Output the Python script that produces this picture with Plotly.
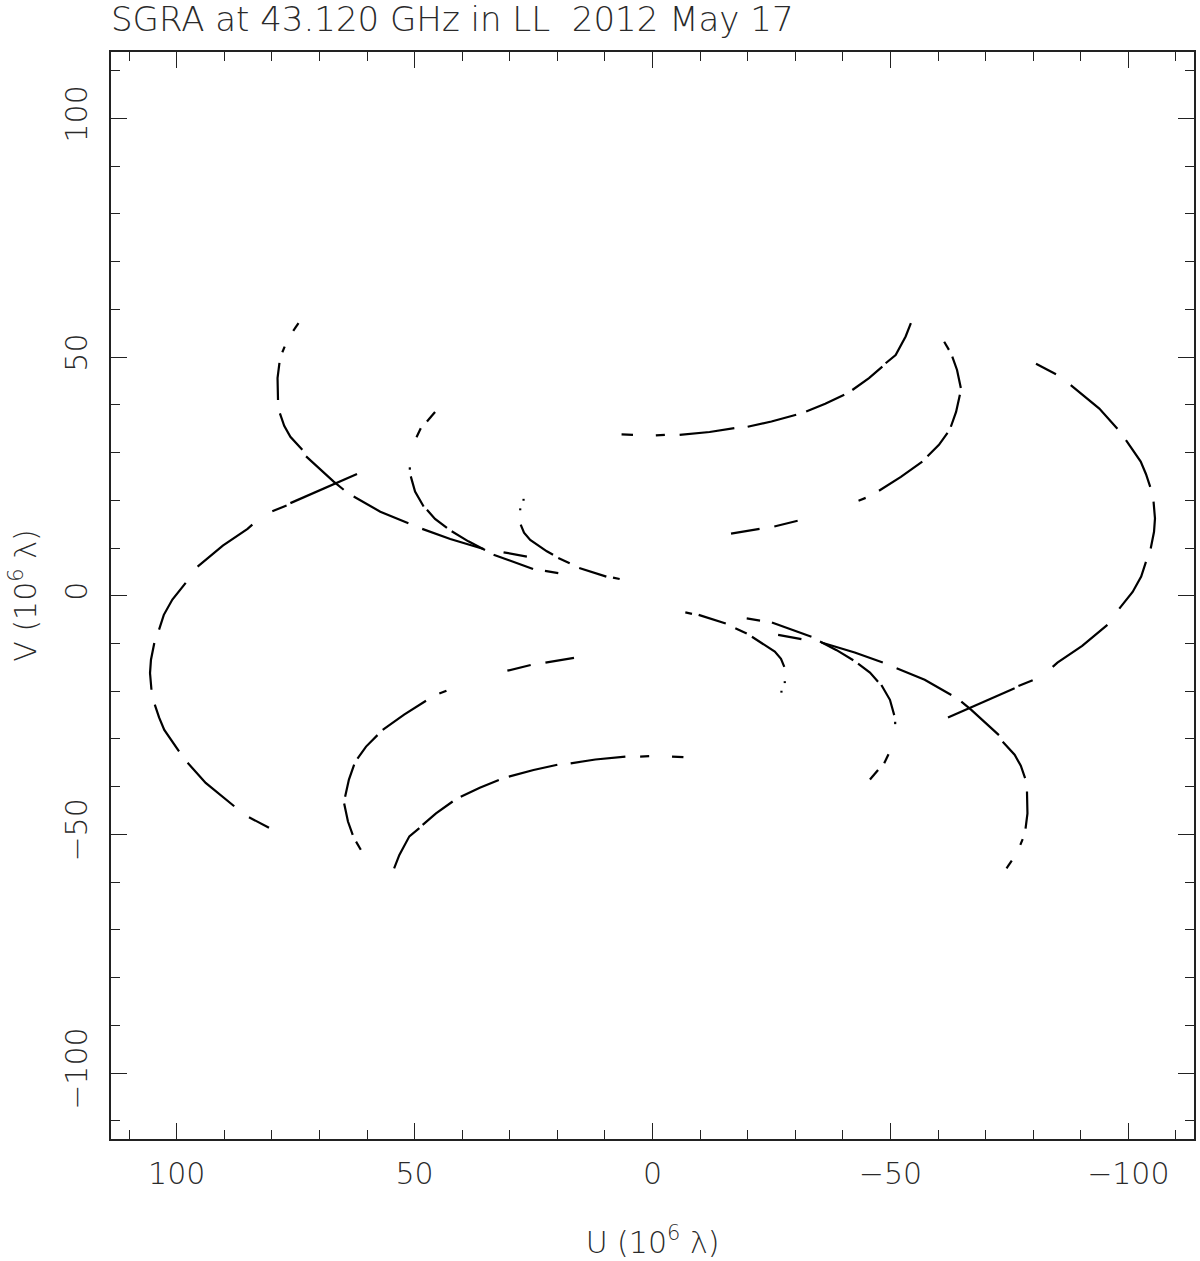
import plotly.graph_objects as go

# uv tracks (U, V in 10^6 lambda); None marks a gap in the data
u_a = [62.1, 69.4, 76.1, None, 76.9, 79.9, None, 84.1, 85.1, 90.3, 95.6, None,
       98.1, 100.9, 102.7, 103.7, None, 104.7, 105.4, 105.6, 105.3, None,
       104.6, 103.7, 102.6, 99.5, None, 97.7, 93.9, 87.9, None, 84.8, 80.6]
v_a = [25.5, 22.4, 19.4, None, 18.9, 17.7, None, 14.9, 14.0, 10.5, 6.1, None,
       2.7, -0.8, -4.0, -7.1, None, -9.9, -13.4, -16.2, -19.7, None,
       -22.8, -25.5, -28.1, -32.6, None, -35.0, -39.2, -44.1, None, -46.4, -48.6]

u_b = [74.4, 75.5, None, 77.3, 77.8, None, 78.4, 78.8, 78.7, None,
       78.3, 77.4, 76.1, 73.6, None, 72.8, 70.2, 67.0, 64.9, None,
       62.8, 57.2, 51.3, None, 48.4, 42.5, 35.5, None, 33.4, 25.1, None, 22.6, 19.8]
v_b = [57.1, 55.5, None, 52.2, 51.0, None, 48.8, 45.6, 41.0, None,
       38.2, 35.6, 33.3, 30.6, None, 29.2, 26.8, 23.9, 22.2, None,
       20.8, 17.6, 15.2, None, 14.0, 11.9, 9.8, None, 8.6, 5.6, None, 5.2, 4.75]

u_c = [-54.3, -53.2, -51.1, -49.0, None, -48.3, -45.5, -42.0, None,
       -40.3, -36.3, -32.3, None, -30.2, -25.0, -20.0, None,
       -17.2, -12.0, -5.7, None, -2.6, -0.7, None, 4.1, 6.5]
v_c = [57.1, 54.3, 50.4, 48.7, None, 48.0, 45.6, 43.1, None,
       42.1, 40.2, 38.6, None, 37.9, 36.5, 35.4, None,
       35.1, 34.3, 33.7, None, 33.7, 33.6, None, 33.7, 33.8]

u_d = [-61.3, -62.3, None, -63.0, -64.0, -64.8, None, -64.6, -63.8, -62.7, None,
       -62.0, -60.2, -57.8, None, -56.7, -52.2, -47.6, None, -44.8, -43.3, None,
       -30.5, -25.6, None, -22.5, -16.5]
v_d = [53.2, 51.5, None, 50.1, 47.3, 43.5, None, 42.1, 38.5, 35.4, None,
       34.1, 31.6, 29.2, None, 28.1, 24.9, 22.0, None, 20.5, 19.9, None,
       15.7, 14.5, None, 14.0, 13.0]

u_e = [45.7, 47.4, None, 48.7, 49.6, None, 51.0, 51.0, None, 50.8, 49.9, 48.1, None,
       47.4, 45.7, 43.2, None, 42.2, 38.7, 35.2, None, 31.3, 26.4]
v_e = [38.5, 36.5, None, 35.1, 33.2, None, 26.9, 26.4, None, 25.0, 21.8, 18.7, None,
       18.0, 16.1, 14.2, None, 13.5, 11.4, 9.6, None, 9.1, 8.2]

u_f = [27.1, 27.1, None, 27.8, 27.8, None, 27.7, 27.0, 25.7, 22.2, 20.9, None,
       19.8, 17.4, None, 15.4, 12.7, 9.7, None, 8.3, 6.9]
v_f = [20.3, 19.9, None, 18.3, 17.9, None, 14.9, 13.2, 11.7, 9.3, 8.6, None,
       7.9, 6.8, None, 5.8, 4.9, 4.0, None, 3.8, 3.5]

tracks = [(u_a, v_a), (u_b, v_b), (u_c, v_c), (u_d, v_d), (u_e, v_e), (u_f, v_f)]

title = "SGRA at 43.120 GHz in LL\u00a0\u00a02012 May 17"
font = "DejaVu Sans, Liberation Sans, sans-serif"
ink = "#2a2a2a"

fig = go.Figure()
for u, v in tracks:
    # each visibility and its complex conjugate (-u, -v)
    conj_u = [None if x is None else -x for x in u]
    conj_v = [None if y is None else -y for y in v]
    for xs, ys in [(u, v), (conj_u, conj_v)]:
        fig.add_trace(go.Scatter(x=xs, y=ys, mode="lines",
                                 line=dict(color="black", width=2.2),
                                 connectgaps=False, hoverinfo="skip"))

axis = dict(showgrid=False, zeroline=False, showline=True, linecolor="#222",
            linewidth=1.5, mirror="allticks", ticks="inside", ticklen=16,
            tickwidth=1.3, tickcolor="#222", tick0=0, dtick=50,
            minor=dict(dtick=10, ticks="inside", ticklen=9, tickwidth=1.3, tickcolor="#222"),
            tickfont=dict(family=font, size=30, color=ink, weight=300))

fig.update_layout(
    width=1200, height=1261,
    margin=dict(l=111, r=4, t=52, b=122),
    paper_bgcolor="white", plot_bgcolor="white",
    showlegend=False,
    title=dict(text=title, x=0, xref="paper", xanchor="left",
               y=1 - 19 / 1261, yref="container", yanchor="middle",
               font=dict(family=font, size=34, color=ink, weight=300)),
    xaxis=dict(axis, range=[113.8, -113.8], ticklabelstandoff=7,
               title=dict(text="U (10<sup>6</sup> λ)", standoff=42,
                          font=dict(family=font, size=30, color=ink, weight=300))),
    yaxis=dict(axis, range=[-113.8, 113.9], tickangle=-90, ticklabelstandoff=10,
               title=dict(text="V (10<sup>6</sup> λ)", standoff=14,
                          font=dict(family=font, size=30, color=ink, weight=300))),
)

# drop the browser's default body margin so the figure sits at the page corner
fig.write_html("out.html", config={"displayModeBar": False},
               post_script="document.body.style.margin = '0';")
